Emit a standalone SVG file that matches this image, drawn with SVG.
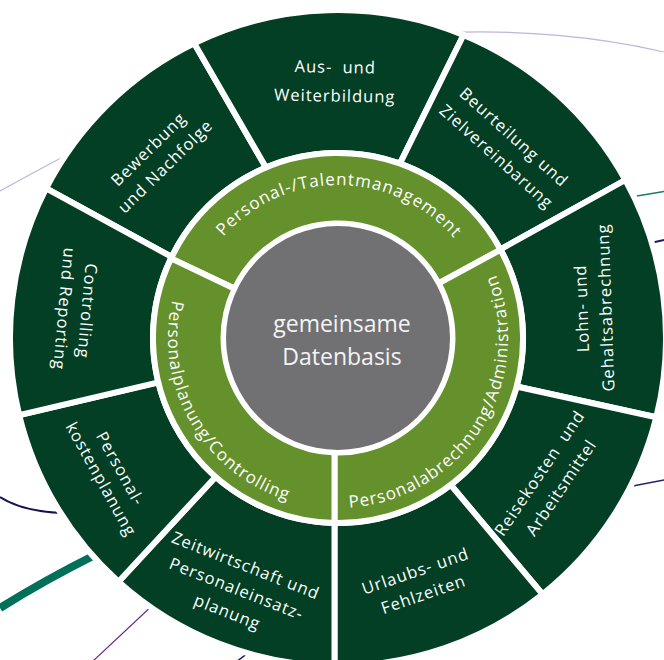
<svg xmlns="http://www.w3.org/2000/svg" width="664" height="660" viewBox="0 0 664 660">
<style>
.dark{fill:#023f24;stroke:#ffffff;stroke-width:6}
.light{fill:#65912d;stroke:#ffffff;stroke-width:6}
.core{fill:#717173}
.lbl{font-family:"Open Sans","Noto Sans","Liberation Sans",sans-serif;font-size:16.5px;fill:#ffffff;text-anchor:middle;letter-spacing:1px}
.ring{font-family:"Open Sans","Noto Sans","Liberation Sans",sans-serif;font-size:17px;fill:#ffffff;letter-spacing:1px}
.ctr{font-family:"Open Sans","Noto Sans","Liberation Sans",sans-serif;font-size:23px;fill:#f4f4f4;text-anchor:middle}
.bg{fill:none;stroke-linecap:butt}
</style>
<defs>
<path id="arcTop" d="M187.56,310.12 A153,153 0 0 1 488.9,312.75"/>
<path id="arcLeft" d="M240.49,198.74 A170,170 0 0 0 409.85,492.07"/>
<path id="arcRight" d="M247.91,482.17 A170,170 0 0 0 428.09,193.83"/>
</defs>
<rect width="664" height="660" fill="#ffffff"/>
<g id="background-curves">
<path class="bg" d="M0,191 Q38,170 76,150" stroke="#bdb5dc" stroke-width="1.2"/>
<path class="bg" d="M440,33 C520,29 600,37 664,52" stroke="#bdb5dc" stroke-width="1.2"/>
<path class="bg" d="M628,197.5 L664,191.5" stroke="#1c7a66" stroke-width="1.3"/>
<path class="bg" d="M646,244 L664,240" stroke="#1b1a5e" stroke-width="2"/>
<path class="bg" d="M625,487.5 L664,480" stroke="#25206a" stroke-width="1.3"/>
<path class="bg" d="M0,497 Q24,512 64,513" stroke="#16124f" stroke-width="2"/>
<path class="bg" d="M0,608 Q45,580 95,555" stroke="#00705a" stroke-width="8"/>
<path class="bg" d="M92,662 L155,603" stroke="#6a2c8c" stroke-width="1.2"/>
<path class="bg" d="M236,662 L252,650" stroke="#1b1a5e" stroke-width="1.5"/>
</g>
<g id="seg-bewerbung">
<path class="dark" d="M171.7,256.9 L46.1,188.3 A328,328 0 0 1 194.2,43.2 L266,167.6 A185,185 0 0 0 171.7,256.9 Z"/>
<text class="lbl" transform="translate(157,158) rotate(-44.5)"><tspan x="0" y="-6.5">Bewerbung</tspan><tspan x="0" y="17.5">und Nachfolge</tspan></text>
</g>
<g id="seg-ausbildung">
<path class="dark" d="M266,167.6 L194.2,43.2 A328,328 0 0 1 463.5,35 L399.9,163.7 A185,185 0 0 0 266,167.6 Z"/>
<text class="lbl" transform="translate(335,82) rotate(1)"><tspan x="0" y="-9.2" word-spacing="5">Aus- und</tspan><tspan x="0" y="19.6">Weiterbildung</tspan></text>
</g>
<g id="seg-beurteilung">
<path class="dark" d="M399.9,163.7 L463.5,35 A328,328 0 0 1 625.4,180 L500.4,249.4 A185,185 0 0 0 399.9,163.7 Z"/>
<text class="lbl" transform="translate(505,147) rotate(42)"><tspan x="0" y="-7.5">Beurteilung und</tspan><tspan x="0" y="18.5">Zielvereinbarung</tspan></text>
</g>
<g id="seg-lohn">
<path class="dark" d="M500.4,249.4 L625.4,180 A328,328 0 0 1 656.3,417.3 L516.5,386.5 A185,185 0 0 0 500.4,249.4 Z"/>
<text class="lbl" transform="translate(594,308) rotate(-92)"><tspan x="0" y="-6.5">Lohn- und</tspan><tspan x="0" y="17.5">Gehaltsabrechnung</tspan></text>
</g>
<g id="seg-reisekosten">
<path class="dark" d="M516.5,386.5 L656.3,417.3 A328,328 0 0 1 542.6,594.3 L450.6,484.8 A185,185 0 0 0 516.5,386.5 Z"/>
<text class="lbl" transform="translate(550.5,480.5) rotate(-56)"><tspan x="0" y="-7.5" word-spacing="5">Reisekosten und</tspan><tspan x="0" y="18.5">Arbeitsmittel</tspan></text>
</g>
<g id="seg-urlaub">
<path class="dark" d="M450.6,484.8 L542.6,594.3 A328,328 0 0 1 334.5,666 L334.5,523 A185,185 0 0 0 450.6,484.8 Z"/>
<text class="lbl" transform="translate(419.5,583) rotate(-19)"><tspan x="0" y="-6.75">Urlaubs- und</tspan><tspan x="0" y="17.75">Fehlzeiten</tspan></text>
</g>
<g id="seg-zeitwirtschaft">
<path class="dark" d="M334.5,523 L334.5,666 A328,328 0 0 1 118.5,581.7 L215.7,476.8 A185,185 0 0 0 334.5,523 Z"/>
<text class="lbl" transform="translate(236.5,589) rotate(21.5)"><tspan x="0" y="-19.5">Zeitwirtschaft und</tspan><tspan x="0" y="5.5">Personaleinsatz-</tspan><tspan x="0" y="30.5">planung</tspan></text>
</g>
<g id="seg-personalkosten">
<path class="dark" d="M215.7,476.8 L118.5,581.7 A328,328 0 0 1 19.2,415.1 L158.4,382.4 A185,185 0 0 0 215.7,476.8 Z"/>
<text class="lbl" transform="translate(110.5,474) rotate(61)"><tspan x="0" y="-5.5">Personal-</tspan><tspan x="0" y="16.5">kostenplanung</tspan></text>
</g>
<g id="seg-controlling">
<path class="dark" d="M158.4,382.4 L19.2,415.1 A328,328 0 0 1 46.1,188.3 L171.7,256.9 A185,185 0 0 0 158.4,382.4 Z"/>
<text class="lbl" transform="translate(75.5,310) rotate(95)"><tspan x="0" y="-6">Controlling</tspan><tspan x="0" y="17">und Reporting</tspan></text>
</g>
<g id="area-talentmanagement">
<path class="light" d="M234.7,288.7 L171,258.4 A185,185 0 0 1 500.6,249.7 L438.6,283.4 A114.5,114.5 0 0 0 234.7,288.7 Z"/>
<text class="ring"><textPath href="#arcTop" startOffset="50%" text-anchor="middle">Personal-/Talentmanagement</textPath></text>
</g>
<g id="area-administration">
<path class="light" d="M438.6,283.4 L500.6,249.7 A185,185 0 0 1 334.5,523 L334.5,452.45 A114.5,114.5 0 0 0 438.6,283.4 Z"/>
<text class="ring"><textPath href="#arcRight" startOffset="50%" text-anchor="middle">Personalabrechnung/Administration</textPath></text>
</g>
<g id="area-controlling">
<path class="light" d="M334.5,452.45 L334.5,523 A185,185 0 0 1 171,258.4 L234.7,288.7 A114.5,114.5 0 0 0 334.5,452.45 Z"/>
<text class="ring"><textPath href="#arcLeft" startOffset="50%" text-anchor="middle">Personalplanung/Controlling</textPath></text>
</g>
<g id="core-datenbasis">
<circle class="core" cx="338" cy="338" r="112"/>
<text class="ctr" x="342" y="332.4">gemeinsame</text>
<text class="ctr" x="342" y="365">Datenbasis</text>
</g>
</svg>
